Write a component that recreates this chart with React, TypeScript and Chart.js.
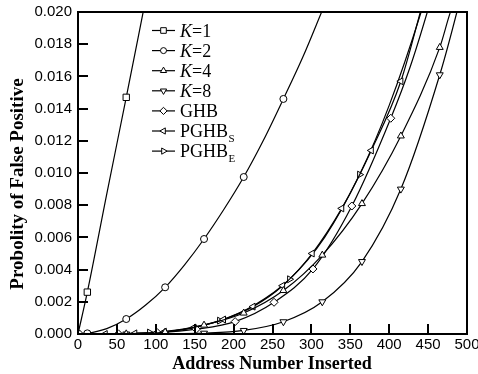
import React, { useEffect, useRef } from "react";
import { Chart, registerables } from "chart.js";

Chart.register(...registerables);

// ---- axis ticks ----
const xTickValues = [0, 50, 100, 150, 200, 250, 300, 350, 400, 450, 500];
const yTickValues = [0, 0.002, 0.004, 0.006, 0.008, 0.01, 0.012, 0.014, 0.016, 0.018, 0.02];

// ---- series (x = address number inserted, y = probability) ----
const seriesNames = ["K=1", "K=2", "K=4", "K=8", "GHB", "PGHB_S", "PGHB_E"];

const k1X = [0, 12, 37, 62, 85];
const k1Y = [0, 0.0026, 0.0087, 0.0147, 0.0203];
const k1Marks = [12, 62];

const k2X = [0, 12, 37, 62, 87, 112, 137, 162, 187, 213, 238, 264, 289, 314, 320];
const k2Y = [0, 0.00004, 0.00033, 0.00093, 0.0018, 0.0029, 0.0043, 0.0059, 0.0077, 0.00975, 0.012, 0.0146, 0.0172, 0.0201, 0.0208];
const k2Marks = [12, 62, 112, 162, 213, 264];

const k4X = [0, 12, 62, 112, 162, 213, 264, 314, 365, 415, 465, 478, 490];
const k4Y = [0, 0, 0.00001, 0.00012, 0.00055, 0.0013, 0.0027, 0.0049, 0.0081, 0.0123, 0.0178, 0.0199, 0.0215];
const k4Marks = [12, 62, 112, 162, 213, 264, 314, 365, 415, 465];

const k8X = [0, 12, 62, 112, 162, 213, 264, 314, 365, 415, 465, 487, 495];
const k8Y = [0, 0, 0, 0.00001, 0.00005, 0.00022, 0.00076, 0.002, 0.0045, 0.009, 0.0161, 0.02, 0.0216];
const k8Marks = [12, 62, 112, 162, 213, 264, 314, 365, 415, 465];

const ghbX = [0, 2, 52, 102, 152, 202, 252, 302, 352, 402, 427, 449, 456];
const ghbY = [0, 0, 0.00001, 0.00008, 0.0003, 0.00077, 0.00197, 0.00404, 0.00795, 0.0134, 0.0166, 0.02, 0.0212];
const ghbMarks = [2, 52, 102, 152, 202, 252, 302, 352, 402];

const pghbSX = [0, 35, 73, 111, 149, 187, 225, 263, 301, 339, 377, 415, 440, 447];
const pghbSY = [0, 0, 0.00004, 0.00014, 0.0004, 0.0009, 0.0017, 0.003, 0.005, 0.0078, 0.0114, 0.0157, 0.02, 0.0213];
const pghbSMarks = [35, 73, 111, 149, 187, 225, 263, 301, 339, 377, 415];

const pghbEX = [0, 2, 47, 92, 137, 182, 227, 272, 317, 362, 400, 441, 450];
const pghbEY = [0, 0, 0.00001, 0.00009, 0.00032, 0.00083, 0.0018, 0.0034, 0.006, 0.0099, 0.0142, 0.02, 0.0215];
const pghbEMarks = [2, 92, 182, 272, 362];

type Marker = "square" | "circle" | "up" | "down" | "diamond" | "left" | "right";

const seriesX = [k1X, k2X, k4X, k8X, ghbX, pghbSX, pghbEX];
const seriesY = [k1Y, k2Y, k4Y, k8Y, ghbY, pghbSY, pghbEY];
const seriesMarks = [k1Marks, k2Marks, k4Marks, k8Marks, ghbMarks, pghbSMarks, pghbEMarks];
const seriesMarker: Marker[] = ["square", "circle", "up", "down", "diamond", "left", "right"];

const styleOf: Record<Marker, { style: string; rot: number; r: number }> = {
  square: { style: "rect", rot: 0, r: 4.5 },
  circle: { style: "circle", rot: 0, r: 3.5 },
  up: { style: "triangle", rot: 0, r: 4 },
  down: { style: "triangle", rot: 180, r: 4 },
  diamond: { style: "rectRot", rot: 0, r: 4 },
  left: { style: "triangle", rot: 270, r: 4 },
  right: { style: "triangle", rot: 90, r: 4 },
};

function drawMarker(ctx: CanvasRenderingContext2D, m: Marker, x: number, y: number) {
  ctx.beginPath();
  const r = 3.6;
  if (m === "square") {
    ctx.rect(x - 2.8, y - 2.8, 5.6, 5.6);
  } else if (m === "circle") {
    ctx.arc(x, y, 3, 0, Math.PI * 2);
  } else if (m === "diamond") {
    ctx.moveTo(x, y - r);
    ctx.lineTo(x + r, y);
    ctx.lineTo(x, y + r);
    ctx.lineTo(x - r, y);
    ctx.closePath();
  } else {
    const rot = m === "up" ? 0 : m === "down" ? Math.PI : m === "right" ? Math.PI / 2 : -Math.PI / 2;
    let a = rot;
    ctx.moveTo(x + Math.sin(a) * r, y - Math.cos(a) * r);
    a += (2 * Math.PI) / 3;
    ctx.lineTo(x + Math.sin(a) * r, y - Math.cos(a) * r);
    a += (2 * Math.PI) / 3;
    ctx.lineTo(x + Math.sin(a) * r, y - Math.cos(a) * r);
    ctx.closePath();
  }
  ctx.fillStyle = "#fff";
  ctx.fill();
  ctx.strokeStyle = "#000";
  ctx.lineWidth = 1;
  ctx.stroke();
}

const SERIF = "'Liberation Serif', 'Times New Roman', serif";
const SANS = "'Liberation Sans', Arial, sans-serif";

const framePlugin = {
  id: "frame",
  afterDatasetsDraw(chart: any) {
    const { ctx, chartArea: a, scales } = chart;
    ctx.save();
    ctx.strokeStyle = "#000";
    ctx.lineWidth = 2;
    ctx.beginPath();
    for (const v of xTickValues) {
      const px = Math.round(scales.x.getPixelForValue(v));
      ctx.moveTo(px, a.bottom);
      ctx.lineTo(px, a.bottom - 10);
    }
    for (const v of yTickValues) {
      const py = Math.round(scales.y.getPixelForValue(v));
      ctx.moveTo(a.left, py);
      ctx.lineTo(a.left + 10, py);
    }
    ctx.stroke();
    ctx.strokeRect(a.left, a.top, a.right - a.left, a.bottom - a.top);

    // legend
    seriesNames.forEach((name, i) => {
      const y = 30.5 + 20.1 * i;
      ctx.beginPath();
      ctx.lineWidth = 1.2;
      ctx.strokeStyle = "#000";
      ctx.moveTo(152, y);
      ctx.lineTo(175, y);
      ctx.stroke();
      drawMarker(ctx, seriesMarker[i], 163.5, y);
      ctx.fillStyle = "#000";
      ctx.textBaseline = "alphabetic";
      ctx.textAlign = "left";
      const base = y + 6;
      let tx = 180;
      if (name.startsWith("K=")) {
        ctx.font = `italic 18px ${SERIF}`;
        ctx.fillText("K", tx, base);
        tx += ctx.measureText("K").width;
        ctx.font = `18px ${SERIF}`;
        ctx.fillText(name.slice(1), tx, base);
      } else if (name.includes("_")) {
        const [main, sub] = name.split("_");
        ctx.font = `18px ${SERIF}`;
        ctx.fillText(main, tx, base);
        tx += ctx.measureText(main).width + 0.5;
        ctx.font = `11px ${SERIF}`;
        ctx.fillText(sub, tx, base + 5);
      } else {
        ctx.font = `18px ${SERIF}`;
        ctx.fillText(name, tx, base);
      }
    });

    // axis titles
    ctx.fillStyle = "#000";
    ctx.textAlign = "center";
    ctx.textBaseline = "middle";
    ctx.font = `bold 18px ${SERIF}`;
    ctx.fillText("Address Number Inserted", 272, 364);
    ctx.save();
    ctx.translate(18, 184);
    ctx.rotate(-Math.PI / 2);
    ctx.font = `bold 19px ${SERIF}`;
    ctx.fillText("Probolity of False Positive", 0, 0);
    ctx.restore();
    ctx.restore();
  },
};

export default function App() {
  const ref = useRef<HTMLCanvasElement | null>(null);
  useEffect(() => {
    if (!ref.current) return;
    const datasets = seriesNames.map((name, i) => {
      const st = styleOf[seriesMarker[i]];
      const xs = seriesX[i];
      const ys = seriesY[i];
      const marks = seriesMarks[i];
      return {
        label: name,
        data: xs.map((x, j) => ({ x, y: ys[j] })),
        borderColor: "#000",
        borderWidth: 1.2,
        backgroundColor: "#fff",
        pointStyle: st.style,
        pointRotation: st.rot,
        pointRadius: xs.map((x) => (marks.includes(x) ? st.r : 0)),
        pointHoverRadius: 0,
        pointBorderWidth: 1,
        pointBackgroundColor: "#fff",
        pointBorderColor: "#000",
        cubicInterpolationMode: "monotone",
        fill: false,
        clip: 0,
      };
    });
    const chart = new Chart(ref.current, {
      type: "line",
      data: { datasets } as any,
      options: {
        animation: false,
        responsive: false,
        devicePixelRatio: 1,
        events: [],
        layout: { padding: { top: 12, right: 11, left: 0, bottom: 0 } },
        plugins: { legend: { display: false }, tooltip: { enabled: false } },
        scales: {
          x: {
            type: "linear",
            min: 0,
            max: 500,
            afterBuildTicks: (s: any) => {
              s.ticks = xTickValues.map((v) => ({ value: v }));
            },
            afterFit: (s: any) => {
              s.height = 40;
              s.paddingLeft = 0;
              s.paddingRight = 0;
            },
            grid: { display: false, drawTicks: false },
            border: { display: false },
            ticks: {
              color: "#000",
              font: { family: SANS, size: 15 },
              padding: 2,
              maxRotation: 0,
              autoSkip: false,
            },
          },
          y: {
            type: "linear",
            min: 0,
            max: 0.02,
            afterBuildTicks: (s: any) => {
              s.ticks = yTickValues.map((v) => ({ value: v }));
            },
            afterFit: (s: any) => {
              s.width = 78;
              s.paddingTop = 0;
              s.paddingBottom = 0;
            },
            grid: { display: false, drawTicks: false },
            border: { display: false },
            ticks: {
              color: "#000",
              font: { family: SANS, size: 15 },
              padding: 6,
              autoSkip: false,
              callback: (v: any) => Number(v).toFixed(3),
            },
          },
        },
      } as any,
      plugins: [framePlugin],
    });
    return () => chart.destroy();
  }, []);
  return (
    <div style={{ position: "fixed", left: 0, top: 0, width: 478, height: 374, background: "#fff" }}>
      <canvas ref={ref} width={478} height={374} style={{ display: "block" }} />
    </div>
  );
}
